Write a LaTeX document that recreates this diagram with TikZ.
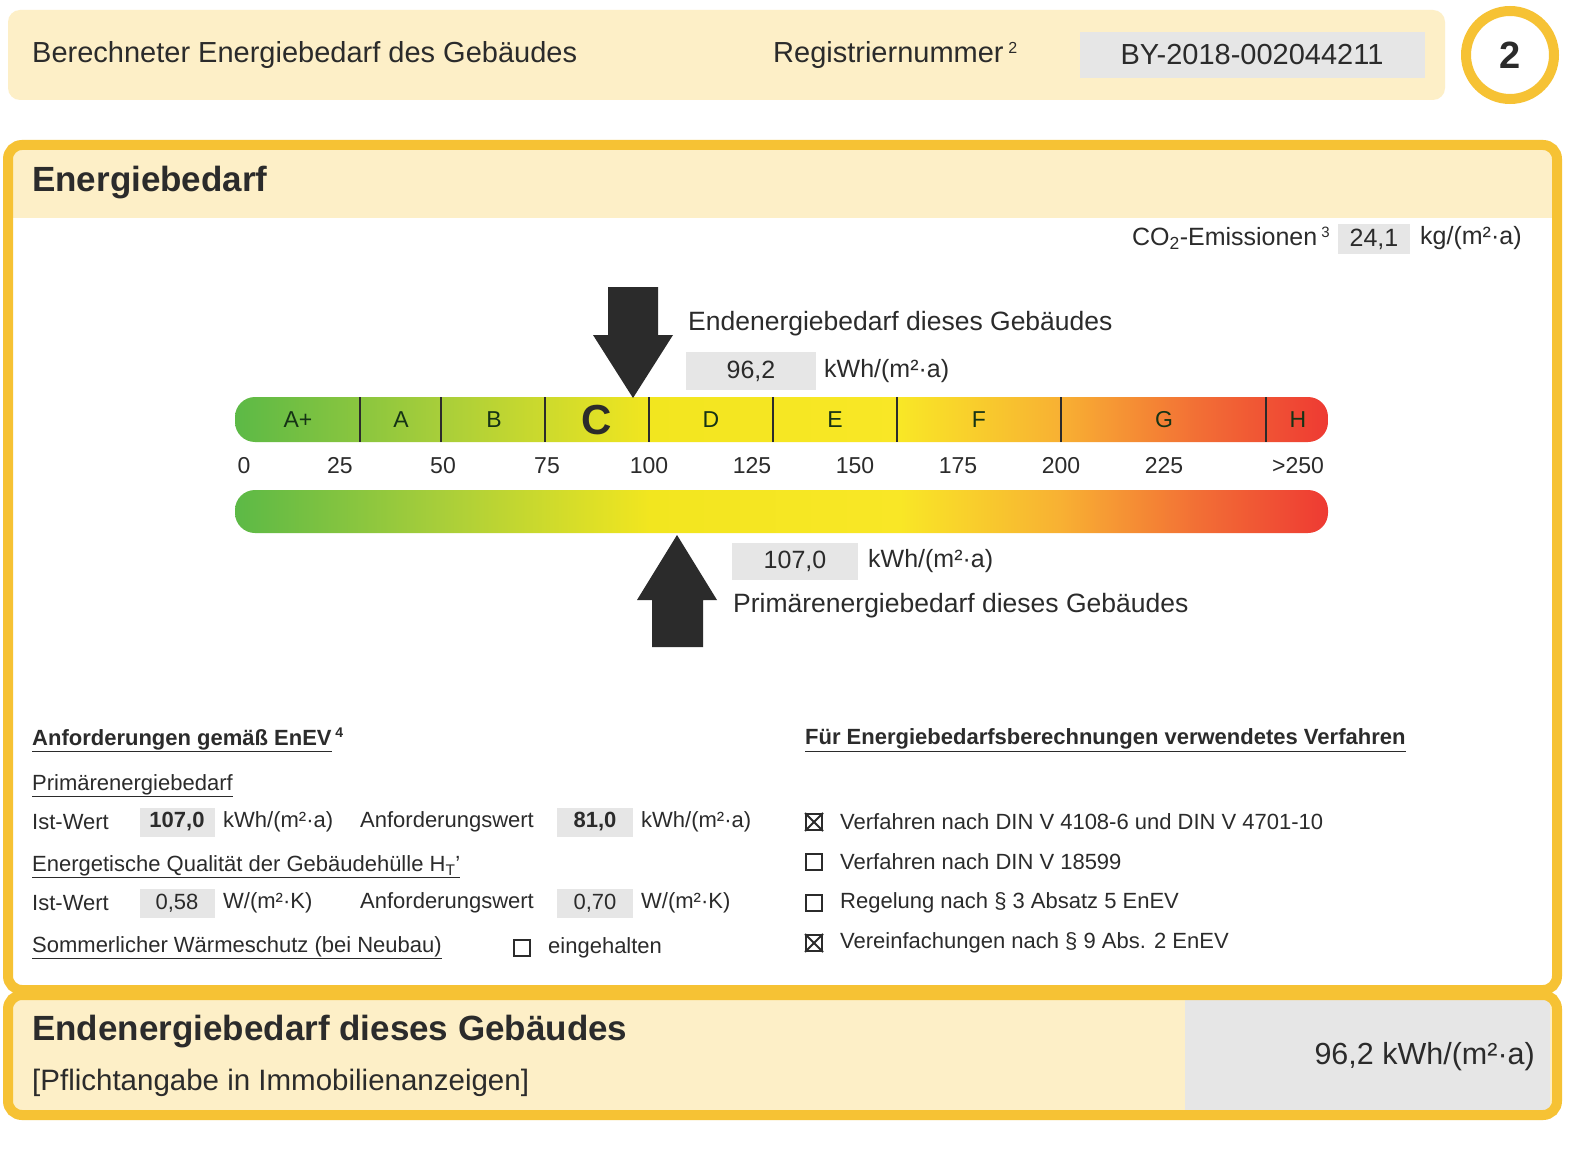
\documentclass[tikz,border=0pt]{standalone}
\usepackage{fontspec}
\setmainfont{Liberation Sans}
\definecolor{paleyel}{HTML}{FDEFC7}
\definecolor{frameyel}{HTML}{F6C234}
\definecolor{boxgray}{HTML}{E6E6E6}
\definecolor{txt}{HTML}{2B2B2B}
\definecolor{cgreen}{HTML}{5CB946}
\definecolor{cygreen}{HTML}{A8CE3A}
\definecolor{cyel}{HTML}{F2E61F}
\definecolor{cyel2}{HTML}{F9E726}
\definecolor{corange}{HTML}{F8B133}
\definecolor{cdorange}{HTML}{F26E35}
\definecolor{cred}{HTML}{EE3A33}
\pgfdeclarehorizontalshading{scaleshade}{100bp}{color(0bp)=(cgreen); color(25bp)=(cgreen);
  color(34.4bp)=(cygreen); color(44bp)=(cyel); color(55.4bp)=(cyel2);
  color(62.7bp)=(corange); color(69.1bp)=(cdorange); color(75bp)=(cred); color(100bp)=(cred)}
\tikzset{
  lbl/.style={anchor=west, inner sep=0pt, text=txt, font=\fontsize{22}{25}\selectfont},
  head/.style={lbl, font=\fontsize{29}{32}\selectfont},
  big/.style={lbl, font=\fontsize{35}{38}\selectfont\bfseries},
  valbox/.style={fill=boxgray, inner sep=0pt, text=txt, font=\fontsize{22}{25}\selectfont},
  chk/.style={draw=txt, line width=2pt, minimum size=16pt, inner sep=0pt},
  grade/.style={text=txt!80!green!60!black, font=\fontsize{23}{26}\selectfont},
  tick/.style={text=txt, font=\fontsize{23}{26}\selectfont},
  divider/.style={draw=txt, line width=1.2pt}
}
\begin{document}
\begin{tikzpicture}[x=1pt,y=-1pt]
\fill[white] (0,0) rectangle (1596,1161);
% top band
\fill[paleyel, rounded corners=12] (8,10) rectangle (1445,100);
\node[head] (title) at (32,55) {Berechneter Energiebedarf des Gebäudes};
\node[head] (regtxt) at (773,55) {Registriernummer\,\raisebox{0.6ex}{\fontsize{16}{16}\selectfont 2}};
\node[valbox, minimum width=345pt, minimum height=46pt, font=\fontsize{29}{32}\selectfont] (regnr) at (1252,55) {BY-2018-002044211};
\node[circle, draw=frameyel, line width=10pt, fill=white, minimum size=88pt, font=\fontsize{38}{40}\selectfont\bfseries, text=txt] (page) at (1510,55) {2};
% main frame
\fill[paleyel] (13,150) rectangle (1552,218);
\draw[frameyel, line width=10pt, rounded corners=14] (8,145) rectangle (1557,990);
\node[big] (energy) at (32,183) {Energiebedarf};
\node[lbl, font=\fontsize{25}{27}\selectfont, anchor=east] (co2txt) at (1330,238) {CO\textsubscript{2}-Emissionen\,\raisebox{0.6ex}{\fontsize{15}{15}\selectfont 3}};
\node[valbox, minimum width=72pt, minimum height=30pt, font=\fontsize{25}{27}\selectfont] (co2val) at (1374,239) {24,1};
\node[lbl, font=\fontsize{25}{27}\selectfont] (co2unit) at (1420,238) {kg/(m²·a)};
% colour scale
\shade[shading=scaleshade, rounded corners=20] (235,397) rectangle (1328,442);
\shade[shading=scaleshade, rounded corners=20] (235,490) rectangle (1328,533);
\foreach \x in {360,441,545,649,773,897,1061,1266}
  \draw[divider] (\x,397) -- (\x,442);
\foreach \x/\g/\n in {298/A+/gAp,401/A/gA,494/B/gB,711/D/gD,835/E/gE,979/F/gF,1164/G/gG,1298/H/gH}
  \node[grade] (\n) at (\x,420) {\g};
\node[grade, font=\fontsize{42}{44}\selectfont\bfseries, text=txt] (gC) at (597,420) {C};
\foreach \x/\v/\n in {244/0/t0,340/25/t25,443/50/t50,547/75/t75,649/100/t100,752/125/t125,855/150/t150,958/175/t175,1061/200/t200,1164/225/t225,1298/>250/t250}
  \node[tick] (\n) at (\x,466) {\v};
% end energy arrow
\fill[txt] (608,287) -- (658,287) -- (658,335) -- (673,335) -- (633,398) -- (593,335) -- (608,335) -- cycle;
\node[lbl, font=\fontsize{26.5}{29}\selectfont] (endlbl) at (688,324) {Endenergiebedarf dieses Gebäudes};
\node[valbox, minimum width=130pt, minimum height=38pt, font=\fontsize{25}{27}\selectfont] (endval) at (751,371) {96,2};
\node[lbl, font=\fontsize{25}{27}\selectfont] (endunit) at (824,371) {kWh/(m²·a)};
% primary energy arrow
\fill[txt] (677,535) -- (717,600) -- (703,600) -- (703,647) -- (652,647) -- (652,600) -- (637,600) -- cycle;
\node[valbox, minimum width=126pt, minimum height=37pt, font=\fontsize{25}{27}\selectfont] (primval) at (795,561) {107,0};
\node[lbl, font=\fontsize{25}{27}\selectfont] (primunit) at (868,561) {kWh/(m²·a)};
\node[lbl, font=\fontsize{26.5}{29}\selectfont] (primlbl) at (733,606) {Primärenergiebedarf dieses Gebäudes};
% requirements
\node[lbl, font=\fontsize{22}{25}\selectfont\bfseries] (req) at (32,740) {\underline{Anforderungen gemäß EnEV}\,\raisebox{0.7ex}{\fontsize{14}{14}\selectfont 4}};
\node[lbl] (prim) at (32,786) {\underline{Primärenergiebedarf}};
\node[lbl] (ist1) at (32,822) {Ist-Wert};
\node[valbox, minimum width=75pt, minimum height=29pt] (ist1v) at (177,822) {\bfseries 107,0};
\node[lbl] (ist1u) at (223,822) {kWh/(m²·a)};
\node[lbl] (anf1) at (360,822) {Anforderungswert};
\node[valbox, minimum width=76pt, minimum height=29pt] (anf1v) at (595,822) {\bfseries 81,0};
\node[lbl] (anf1u) at (641,822) {kWh/(m²·a)};
\node[lbl] (hull) at (32,867) {\underline{Energetische Qualität der Gebäudehülle H\textsubscript{T}'}};
\node[lbl] (ist2) at (32,903) {Ist-Wert};
\node[valbox, minimum width=75pt, minimum height=29pt] (ist2v) at (177,903) {0,58};
\node[lbl] (ist2u) at (223,903) {W/(m²·K)};
\node[lbl] (anf2) at (360,903) {Anforderungswert};
\node[valbox, minimum width=76pt, minimum height=29pt] (anf2v) at (595,903) {0,70};
\node[lbl] (anf2u) at (641,903) {W/(m²·K)};
\node[lbl] (summer) at (32,948) {\underline{Sommerlicher Wärmeschutz (bei Neubau)}};
\node[chk] (chks) at (522,948) {};
\node[lbl] (einh) at (548,948) {eingehalten};
% procedure
\node[lbl, font=\fontsize{22}{25}\selectfont\bfseries] (proc) at (805,740) {\underline{Für Energiebedarfsberechnungen verwendetes Verfahren}};
\foreach \y/\t/\n in {822/{Verfahren nach DIN V 4108-6 und DIN V 4701-10}/p1,862/{Verfahren nach DIN V 18599}/p2,903/{Regelung nach § 3 Absatz 5 EnEV}/p3,943/{Vereinfachungen nach § 9 Abs. 2 EnEV}/p4}{
  \node[chk] (c\n) at (814,\y) {};
  \node[lbl] (\n) at (840,\y) {\t};
}
\draw[txt, line width=2pt] (cp1.north west) -- (cp1.south east) (cp1.north east) -- (cp1.south west);
\draw[txt, line width=2pt] (cp4.north west) -- (cp4.south east) (cp4.north east) -- (cp4.south west);
% bottom band
\fill[paleyel] (8,995) rectangle (1557,1115);
\fill[boxgray] (1185,1000) rectangle (1550,1110);
\draw[frameyel, line width=10pt, rounded corners=14] (8,995) rectangle (1557,1115);
\node[big] (endbig) at (32,1032) {Endenergiebedarf dieses Gebäudes};
\node[lbl, font=\fontsize{29.5}{32}\selectfont] (pflicht) at (32,1083) {[Pflichtangabe in Immobilienanzeigen]};
\node[lbl, anchor=east, font=\fontsize{30.5}{33}\selectfont] (endres) at (1535,1057) {96,2 kWh/(m²·a)};
\pgfresetboundingbox
\useasboundingbox (0,0) rectangle (1596,1161);
\end{tikzpicture}
\end{document}
